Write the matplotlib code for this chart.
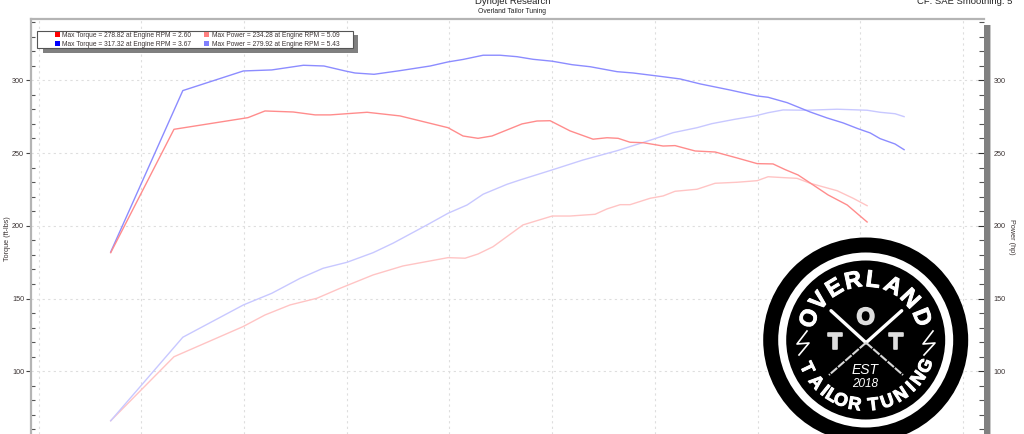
# -----------------------------------------
# Dynojet torque / power chart - Overland Tailor Tuning
# -----------------------------------------
import math
import matplotlib
matplotlib.use("Agg")
import matplotlib.pyplot as plt
import matplotlib.patheffects as pe
from matplotlib.patches import Circle, Rectangle

# -------------------------------
# Data
# -------------------------------
rpm_torque_blue = [1.851, 2.202, 2.497, 2.635, 2.789, 2.889, 2.992, 3.040, 3.133, 3.259, 3.406, 3.493, 3.566,
                   3.664, 3.746, 3.829, 3.907, 4.000, 4.097, 4.185, 4.316, 4.394, 4.525, 4.623, 4.720, 4.866,
                   4.998, 5.051, 5.144, 5.207, 5.256, 5.338, 5.416, 5.489, 5.548, 5.596, 5.669, 5.713]
torque_blue = [182.0, 292.9, 306.4, 307.1, 310.3, 309.8, 306.4, 305.0, 304.1, 306.6, 309.8, 312.6, 314.3,
               317.2, 317.2, 316.2, 314.4, 313.1, 310.7, 309.3, 305.9, 305.0, 302.7, 300.9, 297.5, 293.3,
               289.2, 288.3, 284.6, 281.0, 278.2, 274.1, 270.7, 266.7, 263.8, 259.9, 256.2, 252.3]

rpm_torque_red = [1.851, 2.159, 2.519, 2.602, 2.739, 2.846, 2.919, 3.099, 3.259, 3.493, 3.566, 3.639, 3.707,
                  3.853, 3.926, 3.990, 4.087, 4.199, 4.267, 4.321, 4.379, 4.443, 4.540, 4.598, 4.696, 4.793,
                  4.900, 4.998, 5.075, 5.134, 5.197, 5.256, 5.343, 5.436, 5.533]
torque_red = [181.5, 266.3, 274.3, 278.9, 278.2, 276.2, 276.2, 278.0, 275.5, 267.4, 261.7, 260.1, 261.7,
              270.0, 272.0, 272.2, 265.2, 259.5, 260.5, 260.1, 257.4, 257.1, 254.8, 255.1, 251.4, 250.7,
              246.6, 242.7, 242.5, 238.6, 234.9, 229.4, 221.2, 214.3, 202.6]

rpm_power_blue = [1.851, 2.202, 2.497, 2.635, 2.773, 2.885, 3.001, 3.128, 3.225, 3.391, 3.493, 3.586, 3.664,
                  3.780, 3.844, 4.000, 4.150, 4.316, 4.477, 4.589, 4.705, 4.778, 4.890, 4.988, 5.051, 5.124,
                  5.241, 5.387, 5.533, 5.596, 5.669, 5.713]
power_blue = [66.0, 123.4, 145.6, 153.6, 163.9, 170.8, 174.9, 181.5, 188.0, 200.6, 208.6, 214.3, 221.7,
              228.5, 231.5, 238.4, 245.2, 251.6, 258.8, 264.0, 267.4, 270.2, 273.2, 275.5, 277.7, 279.6,
              279.4, 280.1, 279.4, 278.0, 277.0, 275.0]

rpm_power_red = [1.851, 2.159, 2.495, 2.602, 2.724, 2.855, 2.967, 3.128, 3.274, 3.493, 3.576, 3.639, 3.712,
                 3.858, 4.000, 4.087, 4.209, 4.267, 4.331, 4.379, 4.477, 4.540, 4.598, 4.705, 4.793, 4.900,
                 4.998, 5.051, 5.124, 5.192, 5.256, 5.387, 5.465, 5.533]
power_red = [66.0, 110.0, 130.7, 138.7, 145.6, 150.2, 157.0, 166.2, 172.4, 178.1, 177.7, 180.6, 185.6,
             200.6, 206.7, 206.7, 207.9, 211.6, 214.5, 214.5, 218.9, 220.5, 223.7, 225.1, 229.2, 229.9,
             231.0, 233.7, 233.1, 232.6, 229.2, 224.1, 218.9, 213.8]

x_grid = [1.5, 2.0, 2.5, 3.0, 3.5, 4.0, 4.5, 5.0, 5.5, 6.0]
y_major = [100, 150, 200, 250, 300]
y_minor = [60, 70, 80, 90, 110, 120, 130, 140, 160, 170, 180, 190, 210, 220, 230, 240, 260, 270, 280, 290,
           310, 320, 330, 340]

legend_left = ["Max Torque = 278.82 at Engine RPM = 2.60", "Max Torque = 317.32 at Engine RPM = 3.67"]
legend_right = ["Max Power = 234.28 at Engine RPM = 5.09", "Max Power = 279.92 at Engine RPM = 5.43"]

COL_TQ_RED = "#ff8c8c"
COL_TQ_BLUE = "#8c8cff"
COL_HP_RED = "#ffc4c4"
COL_HP_BLUE = "#c8c8ff"
TXT = "#3c3434"

plt.rcParams["font.family"] = ["Liberation Sans", "DejaVu Sans"]

W, H = 1024, 434
fig = plt.figure(figsize=(W / 100, H / 100), dpi=100)

# -------------------------------
# Main axes (runs off the bottom of the picture)
# -------------------------------
ax = fig.add_axes([31 / W, 0, 953 / W, (H - 19) / H])
ax.set_xlim(1.463, 6.102)
ax.set_ylim(56.9, 342.1)

ax.plot(rpm_power_red, power_red, color=COL_HP_RED, lw=1.0)
ax.plot(rpm_power_blue, power_blue, color=COL_HP_BLUE, lw=1.0)
ax.plot(rpm_torque_blue, torque_blue, color=COL_TQ_BLUE, lw=1.0)
ax.plot(rpm_torque_red, torque_red, color=COL_TQ_RED, lw=1.0)

ax.set_xticks(x_grid)
ax.tick_params(axis="x", length=0, labelbottom=False)
ax.set_yticks(y_major)
ax.set_yticks(y_minor, minor=True)
ax.tick_params(axis="y", which="major", direction="out", length=3.5, width=0.8, color="#444444",
               labelsize=5.2, labelcolor=TXT, pad=1.5)
ax.tick_params(axis="y", which="minor", direction="in", length=3, width=0.8, color="#555555")
ax.grid(True, which="major", color="#dedede", lw=0.8, ls=(0, (2, 3)))
ax.set_axisbelow(True)

for side in ["bottom", "right"]:
    ax.spines[side].set_visible(False)
for side in ["top", "left"]:
    ax.spines[side].set_color("#b4b4b4")
    ax.spines[side].set_linewidth(1.6)

axr = ax.twinx()
axr.set_ylim(ax.get_ylim())
axr.set_yticks(y_major)
axr.set_yticks(y_minor, minor=True)
axr.tick_params(axis="y", which="major", direction="inout", length=8.6, width=0.8, color="#333333",
                labelsize=5.2, labelcolor=TXT, pad=2.5)
axr.tick_params(axis="y", which="minor", direction="in", length=3.5, width=0.8, color="#555555")
for side in ["bottom", "left", "top", "right"]:
    axr.spines[side].set_visible(False)

# -------------------------------
# Overlay in pixel coordinates: titles, legend, logo
# -------------------------------
ov = fig.add_axes([0, 0, 1, 1], zorder=5)
ov.set_xlim(0, W)
ov.set_ylim(H, 0)
ov.axis("off")
ov.patch.set_alpha(0)

ov.add_patch(Rectangle((984, 25), 6, H - 25, color="#808080", lw=0, zorder=1))
ov.add_patch(Rectangle((990, 25), 1, H - 25, color="#c8c8c8", lw=0, zorder=1))

ov.text(512.5, 4.5, "Dynojet Research", ha="center", va="baseline", fontsize=6.8, color="#222222")
ov.text(512, 11.7, "Overland Tailor Tuning", ha="center", va="center", fontsize=4.9, color="#222222")
ov.text(1012, 4.5, "CF: SAE Smoothing: 5", ha="right", va="baseline", fontsize=6.8, color="#222222")
ov.text(8, 239, "Torque (ft-lbs)", rotation=90, ha="center", va="center", fontsize=5.2, color=TXT)
ov.text(1012, 237, "Power (hp)", rotation=270, ha="center", va="center", fontsize=5.2, color=TXT)

# legend box with its shadow
ov.add_patch(Rectangle((43, 35), 315, 18, color="#808080", lw=0, zorder=2))
ov.add_patch(Rectangle((37, 30.5), 316, 17, facecolor="white", edgecolor="#555555", lw=0.8, zorder=3))
legend_cols = [(57, legend_left, ["#ff0000", "#0000ff"]), (206, legend_right, ["#ff8080", "#8080ff"])]
for x0, labels, colors in legend_cols:
    for yy, label, c in zip([34.5, 43.2], labels, colors):
        ov.add_patch(Rectangle((x0 - 2.5, yy - 2.5), 5, 5, color=c, lw=0, zorder=4))
        ov.text(x0 + 5.5, yy + 0.8, label, va="center", ha="left", fontsize=4.8, color=TXT, zorder=4)

# logo
cx, cy = 865.7, 340
ov.add_patch(Circle((cx, cy), 102.5, color="black", lw=0, zorder=6))
ov.add_patch(Circle((cx, cy), 87.5, color="white", lw=0, zorder=6))
ov.add_patch(Circle((cx, cy), 79.5, color="black", lw=0, zorder=6))
heavy = [pe.withStroke(linewidth=0.7, foreground="white")]
heavy_grey = [pe.withStroke(linewidth=1.2, foreground="#dddddd")]

# top arc, angles clockwise from straight up
top_letters = "OVERLAND"
top_angles = [-69, -50, -31, -12, 7, 27, 47, 68]
for ch, deg in zip(top_letters, top_angles):
    a = math.radians(deg)
    ov.text(cx + 60 * math.sin(a), cy - 60 * math.cos(a), ch, ha="center", va="center", rotation=-deg,
            rotation_mode="anchor", fontsize=17, fontweight="bold", color="white", zorder=7, path_effects=heavy)

# bottom arc, angles measured to the left of straight down
bottom_letters = "TAILORTUNING"
bottom_angles = [64.4, 49.5, 38.9, 31.5, 22.6, 9.7, -6.7, -19.4, -32.8, -44, -54, -66.6]
for ch, deg in zip(bottom_letters, bottom_angles):
    a = math.radians(deg)
    ov.text(cx - 66 * math.sin(a), cy + 66 * math.cos(a), ch, ha="center", va="center", rotation=-deg,
            rotation_mode="anchor", fontsize=13, fontweight="bold", color="white", zorder=7, path_effects=heavy)

for ch, lx, ly in [("O", 865.7, 317.7), ("T", 835, 342.7), ("T", 895.7, 342.7)]:
    ov.text(lx, ly, ch, ha="center", va="center", fontsize=17, fontweight="bold", color="#dddddd", zorder=7,
            path_effects=heavy_grey)

# crossed tools
ov.plot([831, 866], [310.7, 342.7], color="white", lw=2.4, solid_capstyle="round", zorder=7)
ov.plot([901.7, 866], [310.7, 342.7], color="white", lw=2.4, solid_capstyle="round", zorder=7)
ov.plot([866, 829], [342.7, 375], color="#d8d8d8", lw=1.5, ls=(0, (4, 0.6)), zorder=7)
ov.plot([866, 903], [342.7, 375], color="#d8d8d8", lw=1.5, ls=(0, (4, 0.6)), zorder=7)

# lightning bolts
ov.plot([807, 797, 809, 799], [331, 344, 343, 355], color="white", lw=1.2, zorder=7)
ov.plot([933, 923, 935, 924], [331, 344, 343, 355], color="white", lw=1.2, zorder=7)

ov.text(865, 370, "EST", ha="center", va="center", fontsize=10, style="italic", color="white", zorder=7)
ov.text(865, 384, "2018", ha="center", va="center", fontsize=8.5, style="italic", color="white", zorder=7)

fig.savefig("out.png", dpi=100)
